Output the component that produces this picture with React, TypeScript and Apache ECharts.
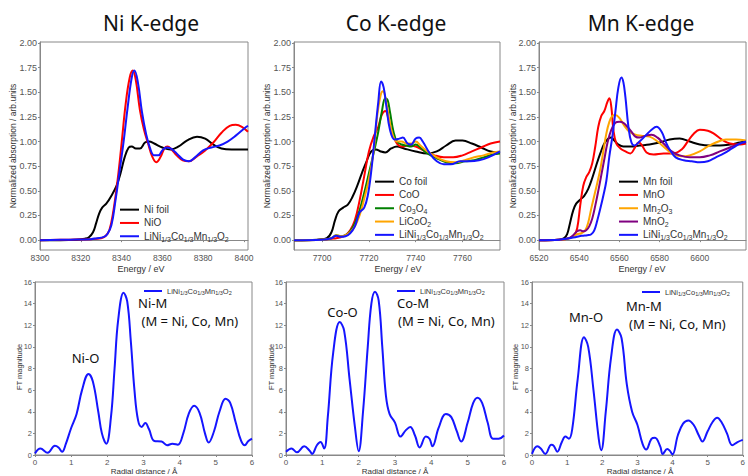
import React, { useEffect, useRef } from 'react';
import * as echarts from 'echarts';

// ---------- Ni K-edge XANES ----------
const NI_FOIL = [[8300,0.0],[8310,0.0],[8318,0.005],[8322,0.015],[8324,0.03],[8326,0.08],[8327.5,0.17],[8329,0.27],[8330.5,0.33],[8332.5,0.37],[8335,0.45],[8337.5,0.55],[8339.5,0.68],[8341.5,0.84],[8343.5,0.94],[8345,0.95],[8347,0.93],[8349,0.93],[8351.5,0.99],[8353.5,1.0],[8356,0.98],[8360,0.94],[8364,0.92],[8368,0.95],[8372,1.01],[8377,1.05],[8381,1.03],[8385,0.97],[8389,0.93],[8394,0.92],[8402,0.92]];
const NIO = [[8300,0.0],[8315,0.005],[8325,0.01],[8330,0.02],[8332,0.04],[8334,0.1],[8336,0.3],[8338,0.6],[8340,0.98],[8342,1.38],[8344,1.65],[8345.5,1.72],[8347,1.62],[8349,1.32],[8351,1.12],[8353,0.98],[8355,0.85],[8357,0.79],[8359,0.84],[8361,0.93],[8362.5,0.95],[8364.5,0.92],[8367,0.86],[8370,0.81],[8373,0.80],[8377,0.85],[8381,0.91],[8385,0.99],[8389,1.09],[8393,1.16],[8396,1.17],[8399,1.15],[8402,1.10]];
const NMC_NI = [[8300,0.0],[8315,0.005],[8325,0.01],[8328,0.02],[8331,0.03],[8333,0.06],[8335,0.15],[8337,0.4],[8339,0.7],[8341,1.0],[8343,1.35],[8345,1.65],[8346.3,1.72],[8348,1.6],[8350,1.3],[8352,1.08],[8354,0.93],[8356,0.86],[8358,0.86],[8360,0.91],[8362,0.94],[8364,0.93],[8367,0.88],[8370,0.82],[8373,0.80],[8376,0.84],[8380,0.91],[8384,0.94],[8388,0.96],[8392,1.0],[8396,1.06],[8400,1.13],[8402,1.16]];

// ---------- Co K-edge XANES ----------
const CO_FOIL = [[7688,0],[7698,0.005],[7702,0.02],[7704,0.08],[7705.5,0.2],[7707,0.29],[7709,0.33],[7711,0.36],[7713,0.44],[7715,0.55],[7717,0.68],[7719,0.8],[7721,0.9],[7723,0.92],[7725,0.9],[7727,0.89],[7729.5,0.93],[7732,0.95],[7735,0.93],[7740,0.9],[7745,0.88],[7749,0.9],[7753,0.96],[7757,1.01],[7760,1.01],[7764,0.98],[7768,0.94],[7772,0.9],[7776,0.89]];
const COO = [[7688,0],[7700,0.005],[7706,0.02],[7708,0.03],[7710,0.05],[7712,0.1],[7714,0.2],[7716,0.4],[7718,0.65],[7720,0.9],[7722,1.05],[7724,1.15],[7725.5,1.27],[7727,1.31],[7728.5,1.22],[7730,1.08],[7732,0.98],[7734,0.95],[7737,0.96],[7740,0.95],[7744,0.9],[7748,0.86],[7752,0.84],[7756,0.84],[7760,0.86],[7764,0.9],[7768,0.94],[7772,0.98],[7776,1.0]];
const CO3O4 = [[7688,0],[7700,0.005],[7704,0.02],[7706,0.05],[7708,0.04],[7710,0.05],[7712,0.09],[7714,0.17],[7716,0.3],[7718,0.48],[7720,0.68],[7722,0.88],[7724,1.1],[7725.5,1.3],[7727,1.44],[7728,1.42],[7729,1.3],[7730.5,1.1],[7732,1.0],[7734,0.97],[7736,0.96],[7738,0.95],[7740,0.97],[7742,0.94],[7745,0.88],[7749,0.83],[7753,0.79],[7757,0.78],[7761,0.8],[7765,0.81],[7769,0.84],[7773,0.87],[7776,0.88]];
const LICOO2 = [[7688,0],[7700,0.005],[7704,0.02],[7706,0.05],[7708,0.04],[7710,0.05],[7712,0.08],[7714,0.14],[7716,0.25],[7718,0.42],[7720,0.62],[7722,0.9],[7723.5,1.25],[7725,1.47],[7726,1.51],[7727,1.45],[7728.5,1.25],[7730,1.08],[7732,1.0],[7734,1.0],[7736,0.98],[7738,0.98],[7740,1.0],[7742,0.96],[7745,0.9],[7749,0.84],[7753,0.8],[7757,0.79],[7761,0.81],[7765,0.84],[7769,0.86],[7773,0.89],[7776,0.9]];
const NMC_CO = [[7688,0],[7700,0.005],[7704,0.02],[7706,0.045],[7708,0.035],[7710,0.04],[7712,0.07],[7714,0.14],[7716,0.28],[7718,0.33],[7719.5,0.45],[7721,0.7],[7722.5,1.05],[7724,1.4],[7725.2,1.61],[7726.3,1.55],[7727.5,1.35],[7729,1.12],[7731,1.02],[7733,1.03],[7734.5,1.04],[7736.5,0.98],[7738,0.97],[7740,1.03],[7741.5,1.04],[7743,1.0],[7746,0.88],[7749,0.8],[7752,0.77],[7755,0.77],[7759,0.8],[7763,0.8],[7767,0.81],[7771,0.84],[7776,0.9]];

// ---------- Mn K-edge XANES ----------
const MN_FOIL = [[6520,0],[6530,0.005],[6532.5,0.02],[6534,0.06],[6535.5,0.18],[6537,0.3],[6538.5,0.37],[6540.5,0.41],[6542.5,0.45],[6544.5,0.52],[6546.5,0.63],[6548.5,0.76],[6550.5,0.88],[6552.5,0.98],[6554.5,1.03],[6556,1.04],[6557.5,1.01],[6559.5,0.97],[6562,0.95],[6566,0.95],[6570,0.96],[6575,0.97],[6580,0.99],[6585,1.02],[6590,1.03],[6595,1.0],[6600,0.97],[6605,0.96],[6610,0.96],[6615,0.97],[6620,0.99],[6623,1.0]];
const MNO = [[6520,0],[6530,0.005],[6535,0.02],[6537.5,0.05],[6539,0.12],[6540.5,0.35],[6542,0.55],[6543.5,0.64],[6545,0.69],[6546.5,0.78],[6548,0.95],[6549.5,1.15],[6551,1.26],[6552.5,1.31],[6554,1.4],[6555,1.44],[6556,1.35],[6557,1.12],[6558.5,0.98],[6560.5,0.93],[6563,0.9],[6565.5,0.88],[6567.5,0.93],[6569.5,0.99],[6571,0.97],[6573.5,0.89],[6577,0.87],[6582,0.88],[6587,0.88],[6591,0.92],[6594,1.0],[6597,1.08],[6600,1.12],[6604,1.11],[6607,1.08],[6611,1.02],[6615,0.98],[6620,0.97],[6623,0.98]];
const MN2O3 = [[6520,0],[6530,0.005],[6535,0.02],[6537,0.04],[6539,0.06],[6541,0.07],[6543,0.1],[6544.5,0.18],[6546,0.32],[6547.5,0.45],[6549,0.58],[6550.5,0.72],[6552,0.9],[6553.5,1.08],[6555,1.2],[6556.5,1.26],[6558,1.27],[6560,1.24],[6562.5,1.16],[6565,1.1],[6568,1.07],[6571,1.06],[6575,1.05],[6579,1.0],[6583,0.93],[6587,0.87],[6591,0.85],[6595,0.86],[6600,0.9],[6604,0.95],[6608,0.99],[6613,1.02],[6618,1.02],[6623,1.01]];
const MNO2 = [[6520,0],[6530,0.005],[6535,0.02],[6537,0.05],[6539,0.09],[6540.5,0.1],[6542,0.09],[6543.5,0.1],[6545,0.14],[6546.5,0.22],[6548,0.35],[6549.5,0.5],[6551,0.66],[6552.5,0.82],[6554,0.98],[6556,1.12],[6558,1.19],[6560,1.2],[6562,1.19],[6564,1.15],[6566,1.1],[6568,1.05],[6570,1.04],[6573,1.06],[6576,1.07],[6579,1.04],[6582,0.98],[6586,0.9],[6590,0.86],[6595,0.84],[6600,0.84],[6605,0.86],[6610,0.9],[6615,0.94],[6620,0.98],[6623,0.99]];
const NMC_MN = [[6520,0],[6530,0.005],[6535,0.02],[6538,0.03],[6540,0.04],[6542,0.045],[6544,0.05],[6546,0.06],[6547.5,0.1],[6549,0.2],[6550.5,0.32],[6552,0.45],[6553.5,0.6],[6555,0.85],[6556.5,1.05],[6558,1.3],[6559.5,1.55],[6561,1.65],[6562,1.6],[6563,1.45],[6564.5,1.15],[6566,0.99],[6567.5,0.96],[6570,1.0],[6573,1.06],[6576,1.12],[6578.5,1.15],[6581,1.1],[6583,1.0],[6585,0.92],[6588,0.84],[6592,0.81],[6596,0.8],[6600,0.79],[6604,0.8],[6608,0.84],[6612,0.88],[6616,0.93],[6620,0.98],[6623,1.0]];

// ---------- Fourier transforms ----------
const FT_NI = [[0,0.15],[0.15,0.6],[0.35,0.2],[0.55,0.85],[0.65,0.7],[0.75,0.3],[0.85,1.0],[1.0,2.5],[1.15,3.8],[1.3,6.0],[1.48,7.5],[1.6,6.8],[1.75,4.0],[1.85,2.0],[1.97,1.05],[2.1,3.5],[2.2,8.0],[2.3,12.5],[2.45,15.0],[2.55,14.2],[2.65,10.5],[2.75,6.0],[2.85,3.2],[2.95,2.6],[3.05,2.95],[3.15,2.4],[3.3,1.3],[3.5,1.25],[3.65,0.9],[3.8,1.05],[3.95,0.95],[4.1,2.0],[4.25,3.8],[4.4,4.55],[4.55,3.9],[4.7,2.0],[4.8,1.15],[4.95,2.2],[5.1,4.0],[5.27,5.2],[5.4,4.8],[5.55,3.0],[5.7,1.3],[5.8,0.9],[5.9,1.3],[6.0,1.5]];
const FT_CO = [[0,0.3],[0.15,0.6],[0.3,0.25],[0.5,0.8],[0.65,0.4],[0.72,0.1],[0.85,0.9],[0.95,1.2],[1.05,0.6],[1.15,3.5],[1.3,9.5],[1.48,12.3],[1.6,11.5],[1.75,7.0],[1.9,2.5],[2.0,0.35],[2.12,4.0],[2.25,10.0],[2.35,14.0],[2.45,15.1],[2.55,14.3],[2.65,10.0],[2.75,5.5],[2.85,3.8],[3.0,3.0],[3.15,1.7],[3.3,2.3],[3.42,2.6],[3.55,1.8],[3.68,0.7],[3.85,1.7],[3.95,1.5],[4.03,0.8],[4.2,2.5],[4.4,3.8],[4.55,3.5],[4.7,2.2],[4.82,1.25],[5.0,3.0],[5.15,4.8],[5.27,5.3],[5.4,4.8],[5.55,3.0],[5.7,1.5],[5.85,1.5],[6.0,1.8]];
const FT_MN = [[0,0.1],[0.15,0.8],[0.25,0.6],[0.38,0.1],[0.55,0.95],[0.62,0.85],[0.72,0.3],[0.85,1.2],[0.95,1.7],[1.05,1.5],[1.15,2.5],[1.3,7.0],[1.48,10.9],[1.6,10.0],[1.75,6.0],[1.9,1.5],[1.97,0.45],[2.1,4.0],[2.25,9.0],[2.42,11.6],[2.55,10.8],[2.7,6.5],[2.85,4.0],[3.0,2.8],[3.15,1.0],[3.25,0.5],[3.4,1.5],[3.5,1.6],[3.65,0.8],[3.72,0.1],[3.85,0.55],[3.92,0.4],[4.0,0.05],[4.15,1.8],[4.3,2.9],[4.45,3.2],[4.6,2.8],[4.75,1.8],[4.85,1.25],[5.0,2.2],[5.15,3.1],[5.27,3.45],[5.4,3.0],[5.55,2.0],[5.7,0.9],[5.85,1.2],[6.0,1.4]];

// ---------- ticks ----------
const XANES_Y_TICKS = [0, 0.25, 0.5, 0.75, 1.0, 1.25, 1.5, 1.75, 2.0];
const NI_X_TICKS = [8300, 8320, 8340, 8360, 8380, 8400];
const CO_X_TICKS = [7700, 7720, 7740, 7760];
const MN_X_TICKS = [6520, 6540, 6560, 6580, 6600];
const FT_X_TICKS = [0, 1, 2, 3, 4, 5, 6];
const FT_Y_TICKS = [0, 2, 4, 6, 8, 10, 12, 14, 16];

const TITLES = ['Ni K-edge', 'Co K-edge', 'Mn K-edge'];

const NMC = '{n|LiNi}{s|1/3}{n|Co}{s|1/3}{n|Mn}{s|1/3}{n|O}{s|2}';
const LEGEND_TEXT: Record<string, string> = {
  'Ni foil': '{n|Ni foil}', 'NiO': '{n|NiO}', 'NMC_Ni': NMC,
  'Co foil': '{n|Co foil}', 'CoO': '{n|CoO}', 'Co3O4': '{n|Co}{s|3}{n|O}{s|4}', 'LiCoO2': '{n|LiCoO}{s|2}', 'NMC_Co': NMC,
  'Mn foil': '{n|Mn foil}', 'MnO': '{n|MnO}', 'Mn2O3': '{n|Mn}{s|2}{n|O}{s|3}', 'MnO2': '{n|MnO}{s|2}', 'NMC_Mn': NMC,
  'FT_Ni': NMC, 'FT_Co': NMC, 'FT_Mn': NMC,
};

const C_BLACK = '#000000';
const C_RED = '#ff0000';
const C_BLUE = '#1515ff';
const C_GREEN = '#008000';
const C_ORANGE = '#ffa500';
const C_PURPLE = '#800080';

const TICK_FONT = 'Liberation Sans';
const LABEL_FONT = 'Noto Sans';

function axis(gridIndex: number, min: number, max: number, ticks: number[], fmt: (v: number) => string, fontSize: number) {
  return {
    type: 'value', gridIndex, min, max,
    axisLine: { show: true, lineStyle: { color: '#888', width: 1 } },
    splitLine: { show: false },
    axisTick: { show: true, length: 2, customValues: ticks, lineStyle: { color: '#888' } },
    axisLabel: { customValues: ticks, formatter: fmt, fontSize, color: '#555', fontFamily: TICK_FONT, margin: 3 },
  };
}

function line(name: string, data: number[][], color: string, idx: number, width = 2) {
  return {
    type: 'line', name, data, xAxisIndex: idx, yAxisIndex: idx,
    showSymbol: false, symbol: 'none', smooth: 0.4, animation: false,
    lineStyle: { color, width }, itemStyle: { color },
  };
}

function legend(names: string[], left: number, top: number, big: boolean) {
  const fs = big ? 10 : 7.5;
  const lh = big ? 13.3 : 10;
  return {
    orient: 'vertical', left, top, padding: 0, itemGap: 0,
    itemWidth: big ? 19 : 18, itemHeight: 2, icon: 'rect', selectedMode: false,
    data: names,
    formatter: (n: string) => LEGEND_TEXT[n],
    textStyle: {
      fontSize: fs, lineHeight: lh, color: '#333', fontFamily: TICK_FONT,
      rich: {
        n: { fontSize: fs, lineHeight: lh, color: '#333', fontFamily: TICK_FONT },
        s: { fontSize: big ? 7 : 5.5, lineHeight: big ? 6 : 4, verticalAlign: 'bottom', color: '#333', fontFamily: TICK_FONT },
      },
    },
  };
}

function txt(text: string, x: number, y: number, fontSize: number, opts: any = {}) {
  return {
    type: 'text', x, y, rotation: opts.rotation || 0, silent: true,
    style: {
      text, fontSize, fontFamily: opts.font || TICK_FONT, fill: opts.color || '#333',
      align: opts.align || 'center', verticalAlign: 'middle',
    },
  };
}

const f2 = (v: number) => v.toFixed(2);
const f0 = (v: number) => String(v);

const option: any = {
  animation: false,
  backgroundColor: '#ffffff',
  grid: [
    { left: 40, top: 42, width: 208, height: 208, show: true, borderColor: '#888', borderWidth: 1, backgroundColor: 'transparent' },
    { left: 294, top: 42, width: 206, height: 208, show: true, borderColor: '#888', borderWidth: 1, backgroundColor: 'transparent' },
    { left: 539, top: 42, width: 207, height: 208, show: true, borderColor: '#888', borderWidth: 1, backgroundColor: 'transparent' },
    { left: 35, top: 282, width: 217, height: 173, show: true, borderColor: '#888', borderWidth: 1, backgroundColor: 'transparent' },
    { left: 286, top: 282, width: 218, height: 173, show: true, borderColor: '#888', borderWidth: 1, backgroundColor: 'transparent' },
    { left: 532, top: 282, width: 215, height: 173, show: true, borderColor: '#888', borderWidth: 1, backgroundColor: 'transparent' },
  ],
  xAxis: [
    axis(0, 8300, 8402, NI_X_TICKS, f0, 8.5),
    axis(1, 7688, 7776, CO_X_TICKS, f0, 8.5),
    axis(2, 6520, 6623, MN_X_TICKS, f0, 8.5),
    axis(3, 0, 6, FT_X_TICKS, f0, 8),
    axis(4, 0, 6, FT_X_TICKS, f0, 8),
    axis(5, 0, 6, FT_X_TICKS, f0, 8),
  ],
  yAxis: [
    axis(0, -0.1, 2.01, XANES_Y_TICKS, f2, 9),
    axis(1, -0.1, 2.01, XANES_Y_TICKS, f2, 9),
    axis(2, -0.1, 2.01, XANES_Y_TICKS, f2, 9),
    axis(3, 0, 16, FT_Y_TICKS, f0, 7.5),
    axis(4, 0, 16, FT_Y_TICKS, f0, 7.5),
    axis(5, 0, 16, FT_Y_TICKS, f0, 7.5),
  ],
  legend: [
    legend(['Ni foil', 'NiO', 'NMC_Ni'], 120, 203, true),
    legend(['Co foil', 'CoO', 'Co3O4', 'LiCoO2', 'NMC_Co'], 375, 175, true),
    legend(['Mn foil', 'MnO', 'Mn2O3', 'MnO2', 'NMC_Mn'], 619, 175, true),
    legend(['FT_Ni'], 144, 286, false),
    legend(['FT_Co'], 397, 286, false),
    legend(['FT_Mn'], 642, 287, false),
  ],
  series: [
    line('Ni foil', NI_FOIL, C_BLACK, 0),
    line('NiO', NIO, C_RED, 0),
    line('NMC_Ni', NMC_NI, C_BLUE, 0),
    line('Co foil', CO_FOIL, C_BLACK, 1),
    line('CoO', COO, C_RED, 1),
    line('Co3O4', CO3O4, C_GREEN, 1),
    line('LiCoO2', LICOO2, C_ORANGE, 1),
    line('NMC_Co', NMC_CO, C_BLUE, 1),
    line('Mn foil', MN_FOIL, C_BLACK, 2),
    line('MnO', MNO, C_RED, 2),
    line('Mn2O3', MN2O3, C_ORANGE, 2),
    line('MnO2', MNO2, C_PURPLE, 2),
    line('NMC_Mn', NMC_MN, C_BLUE, 2),
    line('FT_Ni', FT_NI, C_BLUE, 3),
    line('FT_Co', FT_CO, C_BLUE, 4),
    line('FT_Mn', FT_MN, C_BLUE, 5),
  ],
  graphic: [
    txt(TITLES[0], 151, 23, 21, { font: LABEL_FONT, color: '#111' }),
    txt(TITLES[1], 396, 23, 21, { font: LABEL_FONT, color: '#111' }),
    txt(TITLES[2], 641, 23, 21, { font: LABEL_FONT, color: '#111' }),
    txt('Normalized absorption / arb.units', 13, 146, 8.5, { rotation: Math.PI / 2 }),
    txt('Normalized absorption / arb.units', 267, 146, 8.5, { rotation: Math.PI / 2 }),
    txt('Normalized absorption / arb.units', 513, 146, 8.5, { rotation: Math.PI / 2 }),
    txt('Energy / eV', 141, 269, 9),
    txt('Energy / eV', 398, 269, 9),
    txt('Energy / eV', 642, 269, 9),
    txt('FT magnitude', 19, 367, 7.5, { rotation: Math.PI / 2 }),
    txt('FT magnitude', 271, 367, 7.5, { rotation: Math.PI / 2 }),
    txt('FT magnitude', 515, 367, 7.5, { rotation: Math.PI / 2 }),
    txt('Radial distance / Å', 144, 471, 8),
    txt('Radial distance / Å', 395, 471, 8),
    txt('Radial distance / Å', 640, 471, 8),
    txt('Ni-O', 85.5, 358, 13, { font: LABEL_FONT, color: '#111' }),
    txt('Ni-M', 138, 303, 13, { font: LABEL_FONT, color: '#111', align: 'left' }),
    txt('(M = Ni, Co, Mn)', 141.5, 321, 13, { font: LABEL_FONT, color: '#111', align: 'left' }),
    txt('Co-O', 342.5, 311.5, 13, { font: LABEL_FONT, color: '#111' }),
    txt('Co-M', 397, 303, 13, { font: LABEL_FONT, color: '#111', align: 'left' }),
    txt('(M = Ni, Co, Mn)', 398, 321, 13, { font: LABEL_FONT, color: '#111', align: 'left' }),
    txt('Mn-O', 586, 316.5, 13, { font: LABEL_FONT, color: '#111' }),
    txt('Mn-M', 626, 306, 13, { font: LABEL_FONT, color: '#111', align: 'left' }),
    txt('(M = Ni, Co, Mn)', 629, 323.5, 13, { font: LABEL_FONT, color: '#111', align: 'left' }),
  ],
};

export default function App() {
  const ref = useRef<HTMLDivElement>(null);
  useEffect(() => {
    if (!ref.current) return;
    const chart = echarts.init(ref.current, null, { renderer: 'svg' });
    chart.setOption(option);
    return () => chart.dispose();
  }, []);
  return (
    <div
      ref={ref}
      style={{ position: 'fixed', left: 0, top: 0, width: 748, height: 476, background: '#fff' }}
    />
  );
}
